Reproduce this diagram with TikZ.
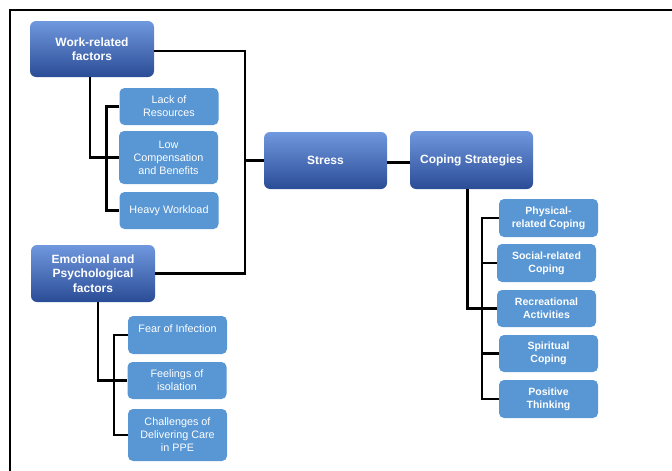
\documentclass[tikz,border=0pt]{standalone}
\usepackage{fontspec}
\setmainfont{Liberation Sans}
\definecolor{topblue}{RGB}{112,152,222}
\definecolor{botblue}{RGB}{42,76,150}
\definecolor{subblue}{RGB}{88,150,212}
\tikzset{
  mainbox/.style={rounded corners=6pt, top color=topblue, bottom color=botblue,
    draw=none, text=white, align=center, inner sep=2pt,
    font=\fontsize{12}{14.5}\selectfont\bfseries},
  subbox/.style={rounded corners=5pt, fill=subblue, draw=none, text=white,
    align=center, inner sep=2pt, minimum width=99pt,
    font=\fontsize{10.8}{13}\selectfont},
  subboxb/.style={subbox, font=\fontsize{10.5}{13}\selectfont\bfseries},
  conn/.style={line width=2.5pt, black}
}
\begin{document}
\begin{tikzpicture}[x=1pt,y=-1pt]
\useasboundingbox (0,0) rectangle (672,471);
% frame
\draw[line width=1.6pt] (10,471) -- (10,10) -- (672,10);

% main boxes
\node[mainbox, minimum width=124pt, minimum height=56pt] (work) at (92,49) {Work-related\\factors};
\node[mainbox, minimum width=124pt, minimum height=57pt] (emo) at (93,273.5) {Emotional and\\Psychological\\factors};
\node[mainbox, minimum width=123pt, minimum height=57pt] (stress) at (325.5,160.5) {Stress};
\node[mainbox, minimum width=123pt, minimum height=58pt] (coping) at (471.5,160) {Coping Strategies};

% work-related factors
\node[subbox, minimum height=37pt] (lack) at (169,106.5) {Lack of\\Resources};
\node[subbox, minimum height=53pt] (low) at (168.5,157.5) {Low\\Compensation\\and Benefits};
\node[subbox, minimum height=37pt] (heavy) at (169,210.5) {Heavy Workload};

% emotional and psychological factors
\node[subbox, minimum height=38pt] (fear) at (177.5,335) {Fear of Infection\\~};
\node[subbox, minimum height=37pt] (feel) at (177,380.5) {Feelings of\\isolation};
\node[subbox, minimum height=52pt] (chal) at (177.5,435) {Challenges of\\Delivering Care\\in PPE};

% coping strategies
\node[subboxb, minimum height=38pt] (phys) at (548.5,218) {Physical-\\related Coping};
\node[subboxb, minimum height=38pt] (soc) at (546.5,263) {Social-related\\Coping};
\node[subboxb, minimum height=37pt] (rec) at (546.5,308.5) {Recreational\\Activities};
\node[subboxb, minimum height=37pt] (spir) at (548.5,353.5) {Spiritual\\Coping};
\node[subboxb, minimum height=38pt] (pos) at (548.5,399) {Positive\\Thinking};

% connectors
\coordinate (join) at (245,160.5);
\draw[conn] ([yshift=-2pt]work.east) -| (join) |- (emo.east);
\draw[conn] (join) -- (stress.west);
\draw[conn] ([yshift=-2pt]stress.east) -- ([yshift=-2pt]stress.east -| coping.west);

\draw[conn] ([xshift=-2pt]work.south) |- (low.west);
\draw[conn] (lack.west) -| ([xshift=-13pt]heavy.west) -- (heavy.west);

\draw[conn] ([xshift=5pt]emo.south) |- (feel.west);
\draw[conn] (fear.west) -| ([xshift=-14pt]chal.west) -- (chal.west);

\coordinate (cspine) at ([xshift=-17pt]pos.west);
\draw[conn] ([xshift=-4pt]coping.south) |- (rec.west);
\draw[conn] (phys.west) -| (cspine) -- (pos.west);
\draw[conn] (soc.west -| cspine) -- (soc.west);
\draw[conn] (spir.west -| cspine) -- (spir.west);
\end{tikzpicture}
\end{document}
